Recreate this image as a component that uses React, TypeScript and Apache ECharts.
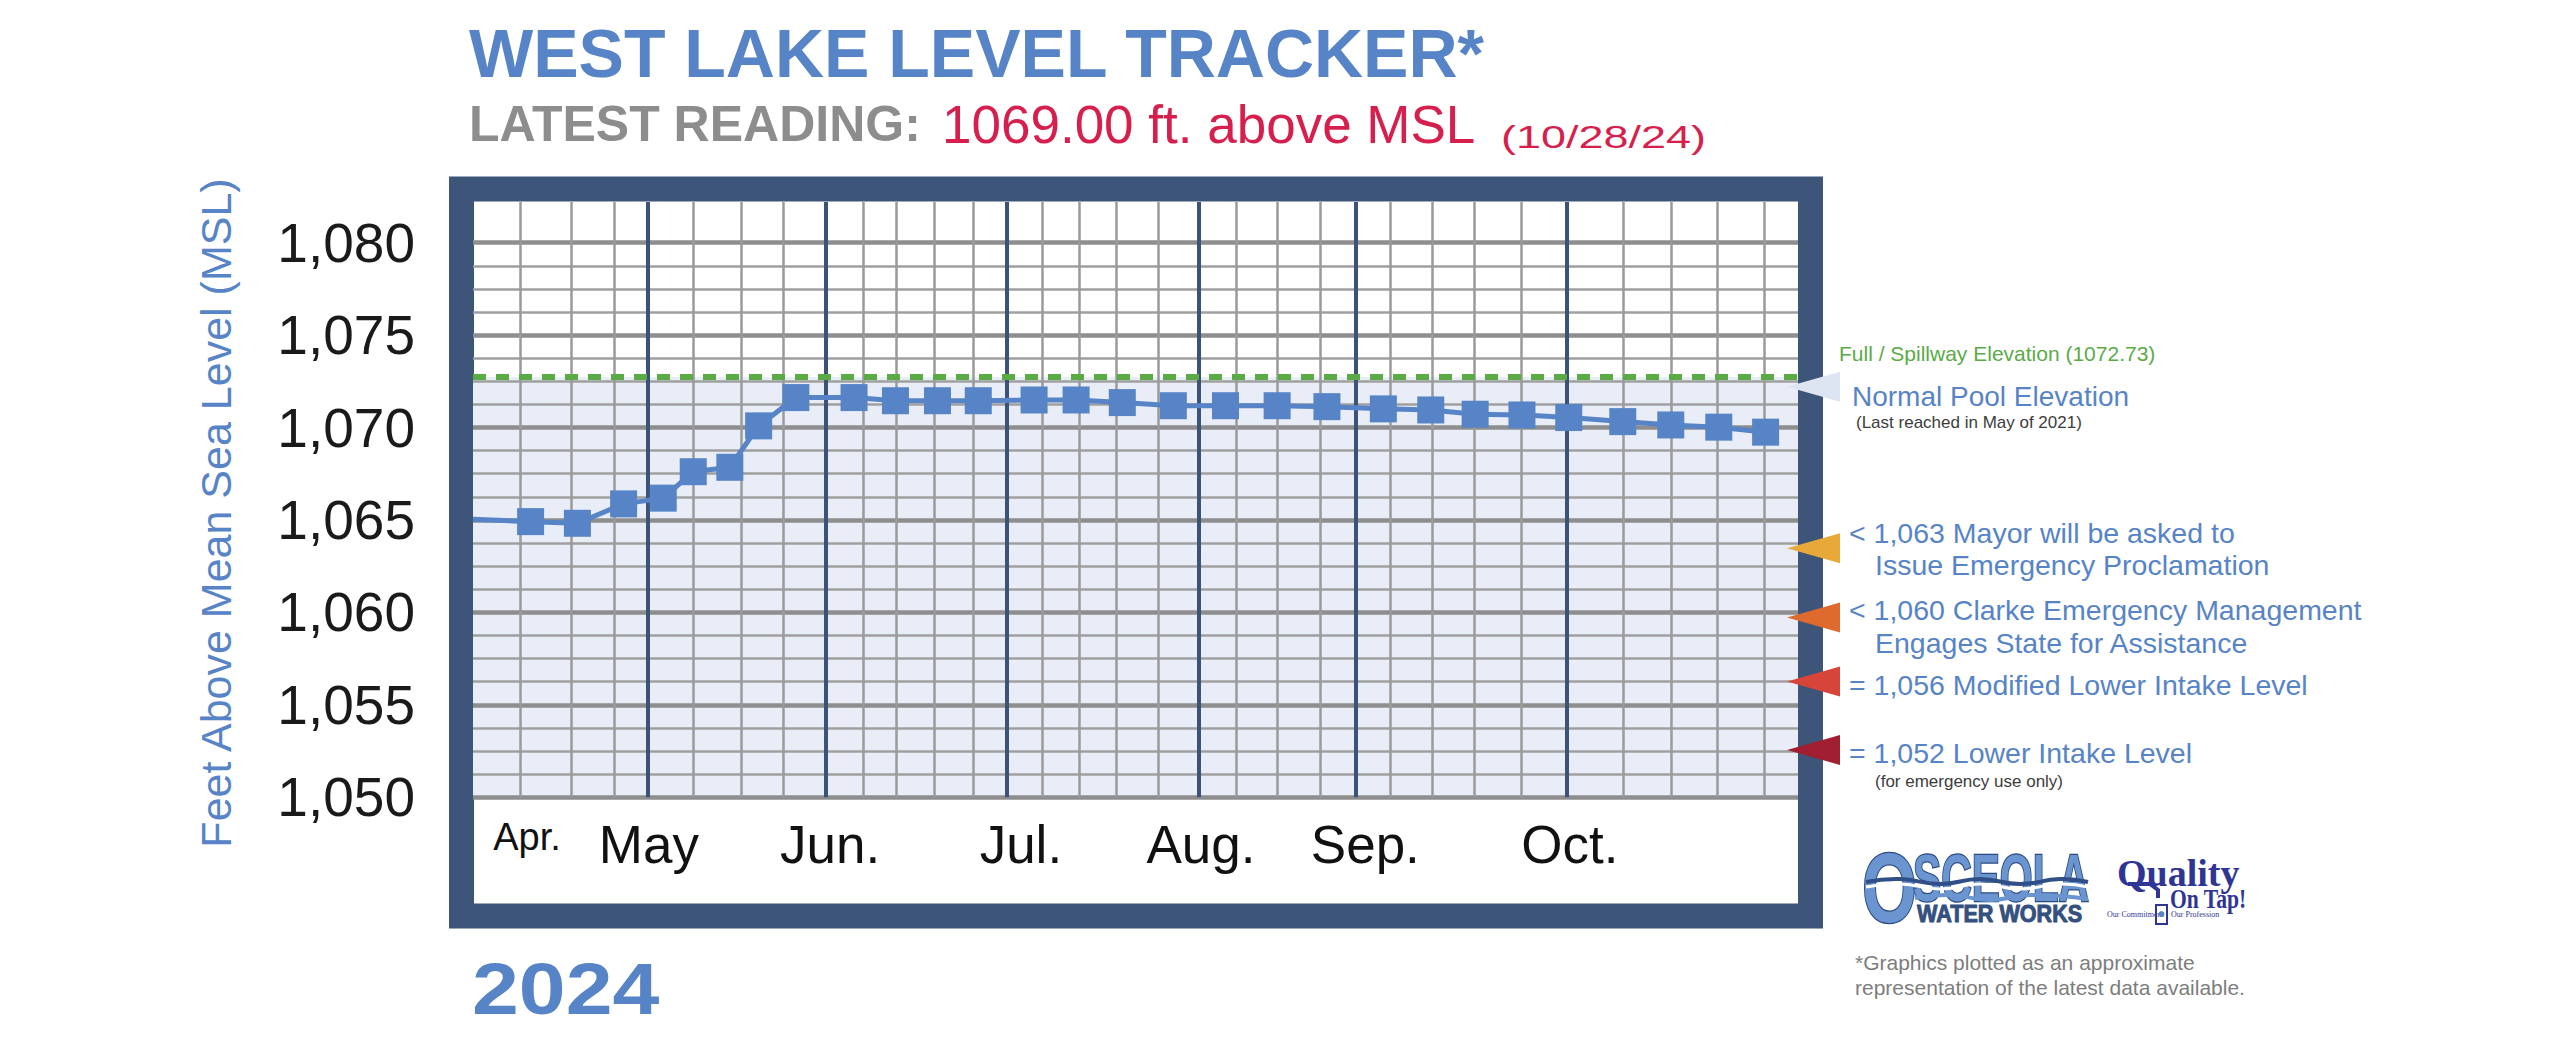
import React, { useEffect, useRef } from "react";
import * as echarts from "echarts";

// ---------- data ----------
// x unit: days counted from the left edge of the plot (start of April)
const X_MAX = 220.8;
const Y_MIN = 1044.28;
const Y_MAX = 1082.2;

const monthLabels = ["Apr.", "May", "Jun.", "Jul.", "Aug.", "Sep.", "Oct."];
const monthLabelDays = [9.0, 29.3, 59.5, 91.3, 121.3, 148.7, 182.8];
const monthLineDays = [29.1, 58.7, 88.9, 121.0, 147.1, 182.2];
const weekLineDays = [
  7.95, 16.45, 23.5, 36.7, 44.7, 51.7, 64.95, 70.45, 76.8, 83.4, 94.8, 101.0,
  107.2, 114.2, 127.2, 134.1, 141.2, 152.8, 159.9, 166.9, 174.6, 191.7, 199.6,
  207.4, 215.2,
];

const readingDays = [
  0, 9.6, 17.4, 25.1, 31.7, 36.7, 42.8, 47.6, 53.8, 63.5, 70.4, 77.4, 84.2,
  93.5, 100.5, 108.2, 116.7, 125.4, 134.0, 142.3, 151.7, 159.6, 167.0, 174.8,
  182.6, 191.6, 199.6, 207.6, 215.4,
];
const readingLevels = [
  1065.04, 1064.91, 1064.82, 1065.87, 1066.18, 1067.61, 1067.85, 1070.09,
  1071.62, 1071.62, 1071.45, 1071.45, 1071.45, 1071.49, 1071.49, 1071.35,
  1071.18, 1071.18, 1071.18, 1071.13, 1071.01, 1070.95, 1070.72, 1070.68,
  1070.54, 1070.32, 1070.14, 1070.02, 1069.75,
];

const yTickLabels = [1050, 1055, 1060, 1065, 1070, 1075, 1080];
const GRID_LOW = 1050;
const GRID_HIGH = 1080;
const GRID_STEP = 1.25;
const SPILLWAY = 1072.73;

const markerLevels = [1072.21, 1063.47, 1059.73, 1056.26, 1052.56];
const markerColors = ["#dde4f2", "#e8a93a", "#df6a2d", "#d6443a", "#a21f31"];

// ---------- styles ----------
const FONT = '"Liberation Sans", Arial, sans-serif';
const SERIF = '"Liberation Serif", "DejaVu Serif", serif';
const BLUE = "#5784c6";
const NAVY = "#3d5579";
const GREEN = "#5aab46";
const RED = "#d71f4e";
const GREYTXT = "#8d8d8d";
const DARK = "#3c3c3c";

const txt = (
  text: string,
  x: number,
  y: number,
  size: number,
  color: string,
  o: any = {}
) => ({
  type: "text",
  x,
  y,
  scaleX: o.scaleX ?? 1,
  rotation: o.rotation ?? 0,
  z: o.z ?? 20,
  style: {
    text,
    fontSize: size,
    fontFamily: o.family ?? FONT,
    fontWeight: o.weight ?? "normal",
    fill: color,
    stroke: o.stroke,
    lineWidth: o.lineWidth ?? 0,
    align: o.align ?? "left",
    verticalAlign: "middle",
  },
});

function buildOption() {
  const levels: number[] = [];
  for (let v = GRID_LOW; v <= GRID_HIGH + 1e-6; v += GRID_STEP) levels.push(v);
  const minorLevels = levels.filter((v) => Math.abs(v % 5) > 1e-6);
  const majorLevels = levels.filter((v) => Math.abs(v % 5) <= 1e-6);

  const markLineBase = {
    silent: true,
    symbol: ["none", "none"],
    label: { show: false },
    emphasis: { disabled: true },
    animation: false,
  };

  const annotations: [string, number, number, number, string][] = [
    ["Full / Spillway Elevation (1072.73)", 1839, 353, 21, GREEN],
    ["Normal Pool Elevation", 1852, 396, 28, BLUE],
    ["(Last reached in May of 2021)", 1856, 422, 17, DARK],
    ["< 1,063 Mayor will be asked to", 1849, 533, 28.5, BLUE],
    ["Issue Emergency Proclamation", 1875, 565, 28.5, BLUE],
    ["< 1,060 Clarke Emergency Management", 1849, 610, 28.5, BLUE],
    ["Engages State for Assistance", 1875, 643, 28.5, BLUE],
    ["= 1,056 Modified Lower Intake Level", 1849, 685, 28.5, BLUE],
    ["= 1,052 Lower Intake Level", 1849, 753, 28.5, BLUE],
    ["(for emergency use only)", 1875, 781, 17, DARK],
    ["*Graphics plotted as an approximate", 1855, 962, 21, "#7d7d7d"],
    ["representation of the latest data available.", 1855, 987, 21, "#7d7d7d"],
  ];

  const graphic: any[] = [
    // frame
    {
      type: "rect",
      z: 0,
      shape: { x: 461.5, y: 189, width: 1349, height: 727 },
      style: { fill: "none", stroke: NAVY, lineWidth: 25 },
    },
    txt("WEST LAKE LEVEL TRACKER*", 469, 53, 68, BLUE, { weight: "bold" }),
    txt("LATEST READING:", 469, 124, 50, GREYTXT, { weight: "bold" }),
    txt("1069.00 ft. above MSL", 942, 124, 53, RED),
    txt("(10/28/24)", 1501, 137, 31, RED, { scaleX: 1.45 }),
    txt("Feet Above Mean Sea Level (MSL)", 216, 513, 43, BLUE, {
      rotation: Math.PI / 2,
      align: "center",
    }),
    txt("2024", 472, 989, 72, BLUE, { weight: "bold", scaleX: 1.17 }),
    ...annotations.map(([t, x, y, s, c]) => txt(t, x, y, s, c)),
    // Osceola Water Works logo
    txt("O", 1862, 888, 98, "#6a95d1", {
      weight: "bold",
      scaleX: 0.72,
      stroke: "#2b4a80",
      lineWidth: 2.5,
    }),
    txt("SCEOLA", 1913, 878, 66, "#6a95d1", {
      weight: "bold",
      scaleX: 0.64,
      stroke: "#2b4a80",
      lineWidth: 2.5,
    }),
    {
      type: "polyline",
      z: 21,
      shape: {
        points: [[1866, 882], [1900, 879], [1940, 884], [1980, 879], [2020, 884], [2060, 879], [2088, 882]],
        smooth: 0.5,
      },
      style: { stroke: "#2f4f86", lineWidth: 4, fill: "none" },
    },
    {
      type: "polyline",
      z: 21,
      shape: {
        points: [[1866, 887], [1900, 884], [1940, 889], [1980, 884], [2020, 889], [2060, 884], [2088, 887]],
        smooth: 0.5,
      },
      style: { stroke: "#ffffff", lineWidth: 3, fill: "none" },
    },
    {
      type: "polyline",
      z: 21,
      shape: {
        points: [[1915, 898], [1950, 895], [1990, 900], [2030, 895], [2088, 899]],
        smooth: 0.5,
      },
      style: { stroke: "#6a95d1", lineWidth: 4, fill: "none" },
    },
    txt("WATER WORKS", 1917, 914, 24, "#34507e", {
      weight: "bold",
      scaleX: 0.9,
      stroke: "#34507e",
      lineWidth: 1,
    }),
    // Quality On Tap logo
    txt("Quality", 2117, 873, 38, "#2f3594", { weight: "bold", family: SERIF }),
    txt("On Tap!", 2170, 899, 27, "#2f3594", { weight: "bold", family: SERIF, scaleX: 0.8 }),
    txt("Our Commitment", 2107, 914, 8, "#2f3594", { family: SERIF }),
    txt("Our Profession", 2171, 914, 8, "#2f3594", { family: SERIF }),
    {
      type: "rect",
      z: 21,
      shape: { x: 2156, y: 905, width: 11, height: 19 },
      style: { fill: "none", stroke: "#2f3594", lineWidth: 2 },
    },
    {
      type: "circle",
      z: 21,
      shape: { cx: 2161.5, cy: 914, r: 3 },
      style: { fill: "#5784c6" },
    },
    {
      type: "polyline",
      z: 21,
      shape: { points: [[2128, 884], [2150, 884], [2158, 890], [2158, 898]] },
      style: { stroke: "#2f3594", lineWidth: 4, fill: "none" },
    },
  ];

  return {
    animation: false,
    backgroundColor: "#ffffff",
    textStyle: { fontFamily: FONT },
    grid: { left: 473, top: 202, width: 1325, height: 701, containLabel: false },
    xAxis: {
      type: "value",
      min: 0,
      max: X_MAX,
      position: "bottom",
      axisLine: { show: false },
      axisTick: { show: false },
      splitLine: { show: false },
      axisLabel: {
        inside: true,
        margin: 85,
        verticalAlign: "top",
        customValues: monthLabelDays,
        formatter: (v: number) => {
          const i = monthLabelDays.findIndex((d) => Math.abs(d - v) < 0.01);
          if (i < 0) return "";
          return i === 0 ? `{s|${monthLabels[i]}}` : `{b|${monthLabels[i]}}`;
        },
        rich: {
          s: { fontSize: 38, fontFamily: FONT, color: "#111111" },
          b: { fontSize: 53, fontFamily: FONT, color: "#111111" },
        },
      },
    },
    yAxis: {
      type: "value",
      min: Y_MIN,
      max: Y_MAX,
      axisLine: { show: false },
      axisTick: { show: false },
      splitLine: { show: false },
      axisLabel: {
        customValues: yTickLabels,
        margin: 58,
        fontSize: 55,
        color: "#1a1a1a",
        fontFamily: FONT,
        formatter: (v: number) => {
          const s = String(Math.round(v));
          return s.slice(0, 1) + "," + s.slice(1);
        },
      },
    },
    graphic,
    series: [
      {
        type: "line",
        data: [],
        z: 1,
        silent: true,
        markArea: {
          silent: true,
          itemStyle: { color: "#e8edf8" },
          emphasis: { disabled: true },
          data: [[{ yAxis: GRID_LOW }, { yAxis: SPILLWAY }]],
        },
      },
      {
        type: "line",
        data: [],
        z: 2,
        silent: true,
        markLine: {
          ...markLineBase,
          lineStyle: { color: "#9f9f9f", width: 2.5, type: "solid" },
          data: minorLevels.map((v) => ({ yAxis: v })),
        },
      },
      {
        type: "line",
        data: [],
        z: 2,
        silent: true,
        markLine: {
          ...markLineBase,
          lineStyle: { color: "#8e8e8e", width: 4.5, type: "solid" },
          data: majorLevels.map((v) => ({ yAxis: v })),
        },
      },
      {
        type: "line",
        data: [],
        z: 3,
        silent: true,
        markLine: {
          ...markLineBase,
          lineStyle: { color: "#9a9a9a", width: 2.5, type: "solid" },
          data: weekLineDays.map((d) => [{ coord: [d, GRID_LOW] }, { coord: [d, Y_MAX] }]),
        },
      },
      {
        type: "line",
        data: [],
        z: 4,
        silent: true,
        markLine: {
          ...markLineBase,
          lineStyle: { color: "#3b5379", width: 4, type: "solid" },
          data: monthLineDays.map((d) => [{ coord: [d, GRID_LOW] }, { coord: [d, Y_MAX] }]),
        },
      },
      {
        type: "line",
        data: [],
        z: 5,
        silent: true,
        markLine: {
          ...markLineBase,
          lineStyle: { color: GREEN, width: 6, type: [13, 10] },
          data: [{ yAxis: SPILLWAY }],
        },
      },
      {
        type: "line",
        z: 6,
        silent: true,
        showAllSymbol: true,
        symbol: "rect",
        symbolSize: 27,
        lineStyle: { color: BLUE, width: 5 },
        itemStyle: { color: BLUE },
        data: readingDays.map((d, i) =>
          i === 0
            ? { value: [d, readingLevels[i]], symbol: "none" }
            : [d, readingLevels[i]]
        ),
        markPoint: {
          silent: true,
          symbol: "path://M0,15L52,0L52,30Z",
          symbolSize: [53, 30],
          symbolOffset: [15.5, 0],
          label: { show: false },
          emphasis: { disabled: true },
          data: markerLevels.map((lv, i) => ({
            coord: [X_MAX, lv],
            itemStyle: { color: markerColors[i] },
          })),
        },
      },
    ],
  };
}

export default function App() {
  const ref = useRef<HTMLDivElement>(null);
  useEffect(() => {
    if (!ref.current) return;
    const chart = echarts.init(ref.current, null, { renderer: "svg" });
    chart.setOption(buildOption() as any);
    return () => chart.dispose();
  }, []);
  return (
    <div
      ref={ref}
      style={{
        position: "fixed",
        left: 0,
        top: 0,
        width: 2560,
        height: 1039,
        background: "#ffffff",
      }}
    />
  );
}
